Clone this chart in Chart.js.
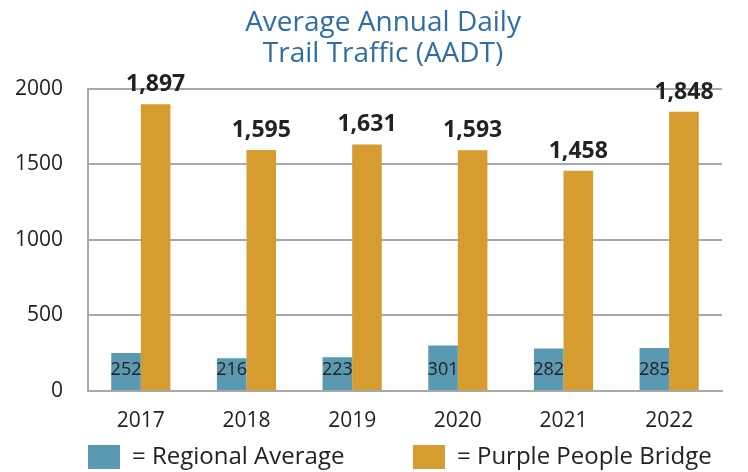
<!DOCTYPE html>
<html>
<head>
<meta charset="utf-8">
<script src="https://cdn.jsdelivr.net/npm/chart.js@4"></script>
<style>
  html, body { margin: 0; padding: 0; background: #fff; }
  #wrap { width: 748px; height: 472px; }
</style>
</head>
<body>
<div id="wrap"><canvas id="myChart" width="748" height="472"></canvas></div>
<script>
const years = ['2017', '2018', '2019', '2020', '2021', '2022']
const regionalAverage = [252, 216, 223, 301, 282, 285]
const purplePeopleBridge = [1897, 1595, 1631, 1593, 1458, 1848]
const yTicks = [0, 500, 1000, 1500, 2000]

const FONT = 'Open Sans'

// orange values sit above their bar, blue ones inside near the bottom
const valueLabels = {
  id: 'valueLabels',
  afterDatasetsDraw(chart) {
    const { ctx } = chart
    const yScale = chart.scales.y
    ctx.save()
    ctx.textAlign = 'center'
    ctx.fillStyle = '#222'
    chart.getDatasetMeta(0).data.forEach((bar, i) => {
      ctx.font = '18px ' + FONT
      ctx.textBaseline = 'middle'
      ctx.fillText(regionalAverage[i], bar.x, yScale.getPixelForValue(0) - 21)
    })
    chart.getDatasetMeta(1).data.forEach((bar, i) => {
      ctx.font = 'bold 23px ' + FONT
      ctx.textBaseline = 'alphabetic'
      ctx.fillText(purplePeopleBridge[i].toLocaleString('en-US'), bar.x, bar.y - 13)
    })
    ctx.restore()
  },
}

const ctx = document.getElementById('myChart').getContext('2d')
const myChart = new Chart(ctx, {
  type: 'bar',
  data: {
    labels: years,
    datasets: [
      {
        // trailing spaces keep the gap before the second legend item
        label: '= Regional Average           ',
        data: regionalAverage,
        backgroundColor: '#5b99b2',
        categoryPercentage: 0.56,
        barPercentage: 1,
      },
      {
        label: '= Purple People Bridge',
        data: purplePeopleBridge,
        backgroundColor: '#d69c2f',
        categoryPercentage: 0.56,
        barPercentage: 1,
      },
    ],
  },
  options: {
    responsive: false,
    animation: false,
    layout: { padding: { left: 15, right: 26, top: 4, bottom: -7 } },
    plugins: {
      title: {
        display: true,
        // leading spaces nudge the title towards the plot centre
        text: ['    Average Annual Daily', '    Trail Traffic (AADT)'],
        color: '#2f6ea5',
        font: { family: FONT, size: 28, weight: 'normal', lineHeight: 1.12 },
        padding: { top: 3, bottom: 19 },
      },
      legend: {
        position: 'bottom',
        align: 'start',
        fullSize: false,
        labels: {
          color: '#222',
          font: { family: FONT, size: 24, lineHeight: 1 },
          boxWidth: 32,
          boxHeight: 24,
          padding: 0,
        },
      },
      tooltip: { enabled: false },
    },
    scales: {
      x: {
        afterFit: (axis) => { axis.height = 54 },
        grid: { display: false, drawTicks: false },
        border: { color: '#a8a8a8', width: 2 },
        ticks: { color: '#222', font: { family: FONT, size: 21 }, padding: 17 },
      },
      y: {
        min: 0,
        max: 2000,
        afterBuildTicks: (axis) => { axis.ticks = yTicks.map((v) => ({ value: v })) },
        afterFit: (axis) => { axis.width = 73 },
        grid: { color: '#a8a8a8', lineWidth: 2, drawTicks: false },
        border: { color: '#a8a8a8', width: 2 },
        ticks: {
          color: '#222',
          font: { family: FONT, size: 21 },
          padding: 25,
          callback: (v) => String(v),
        },
      },
    },
  },
  plugins: [valueLabels],
})
</script>
</body>
</html>
